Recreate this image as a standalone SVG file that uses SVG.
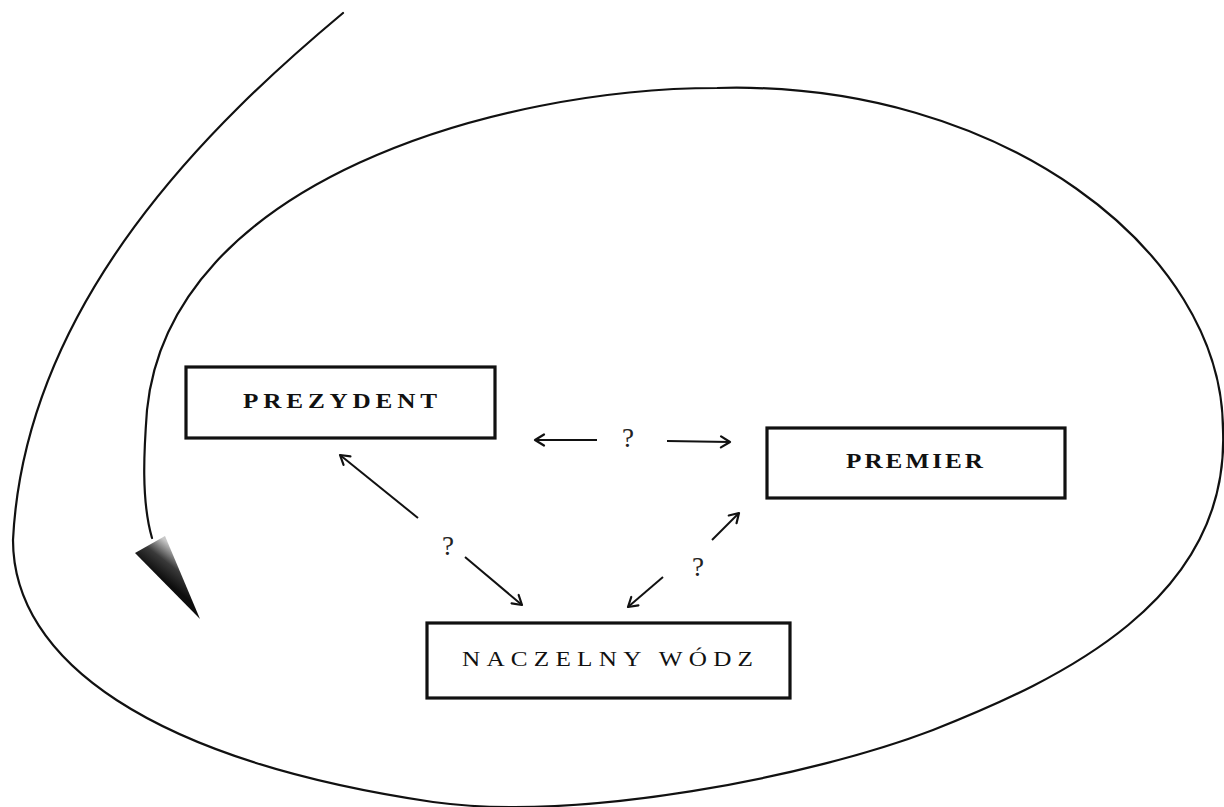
<svg xmlns="http://www.w3.org/2000/svg" width="1224" height="807" viewBox="0 0 1224 807">
  <defs>
    <style>
      .curve { fill: none; stroke: #111; stroke-width: 2.2; stroke-linecap: round; stroke-linejoin: round; }
      .box { fill: #fff; stroke: #111; stroke-width: 3.2; }
      .lbl { font-family: "Liberation Serif", "DejaVu Serif", serif; fill: #111; font-size: 21px; }
      .bold { font-weight: bold; }
      .q { font-family: "Liberation Serif", "DejaVu Serif", serif; fill: #222; font-size: 27px; text-anchor: middle; }
      .link { fill: none; stroke: #111; stroke-width: 2; marker-end: url(#head); }
    </style>
    <marker id="head" markerUnits="userSpaceOnUse" markerWidth="14" markerHeight="14" viewBox="0 0 14 14" refX="12" refY="7" orient="auto">
      <path d="M3,1.5 L12,7 L3,12.5" fill="none" stroke="#111" stroke-width="2.2" stroke-linecap="round" stroke-linejoin="round"/>
    </marker>
    <linearGradient id="tipShade" gradientUnits="userSpaceOnUse" x1="150" y1="570" x2="170" y2="544">
      <stop offset="0" stop-color="#0d0d0d"/>
      <stop offset="0.5" stop-color="#3a3a3a"/>
      <stop offset="1" stop-color="#c8c8c8"/>
    </linearGradient>
  </defs>

  <!-- spiral boundary: enters from the top, sweeps round and closes into the arrow -->
  <g id="spiral">
    <path class="curve" d="M343,13 C215,120 25,300 13,540 C13,660 150,760 433,802 C580,822 810,777 933,730 C1060,680 1230,600 1223,430 C1223,250 1000,80 717,88 C500,88 170,180 147,410 C144,450 141,500 152,538"/>
    <polygon points="135,553 165,536 200,619" fill="url(#tipShade)"/>
  </g>

  <!-- labels are widened horizontally to get the broad lettering -->
  <g id="prezydent">
    <rect class="box" x="186" y="367" width="309" height="71"/>
    <text class="lbl bold" transform="translate(243,408) scale(1.2,1)" textLength="161.7" lengthAdjust="spacing">PREZYDENT</text>
  </g>

  <g id="premier">
    <rect class="box" x="767" y="428" width="298" height="70"/>
    <text class="lbl bold" transform="translate(846,468) scale(1.2,1)" textLength="114.2" lengthAdjust="spacing">PREMIER</text>
  </g>

  <g id="naczelny-wodz">
    <rect class="box" x="427" y="623" width="363" height="75"/>
    <text class="lbl" transform="translate(462,666) scale(1.2,1)" textLength="242.5" lengthAdjust="spacing">NACZELNY WÓDZ</text>
  </g>

  <g id="connectors">
    <line class="link" x1="597" y1="440" x2="535" y2="440"/>
    <line class="link" x1="667" y1="441" x2="730" y2="442"/>
    <line class="link" x1="418" y1="518" x2="340" y2="455"/>
    <line class="link" x1="465" y1="557" x2="522" y2="605"/>
    <line class="link" x1="712" y1="540" x2="739" y2="513"/>
    <line class="link" x1="663" y1="577" x2="628" y2="607"/>
    <text class="q" x="628" y="447">?</text>
    <text class="q" x="448" y="555">?</text>
    <text class="q" x="698" y="576">?</text>
  </g>
</svg>
